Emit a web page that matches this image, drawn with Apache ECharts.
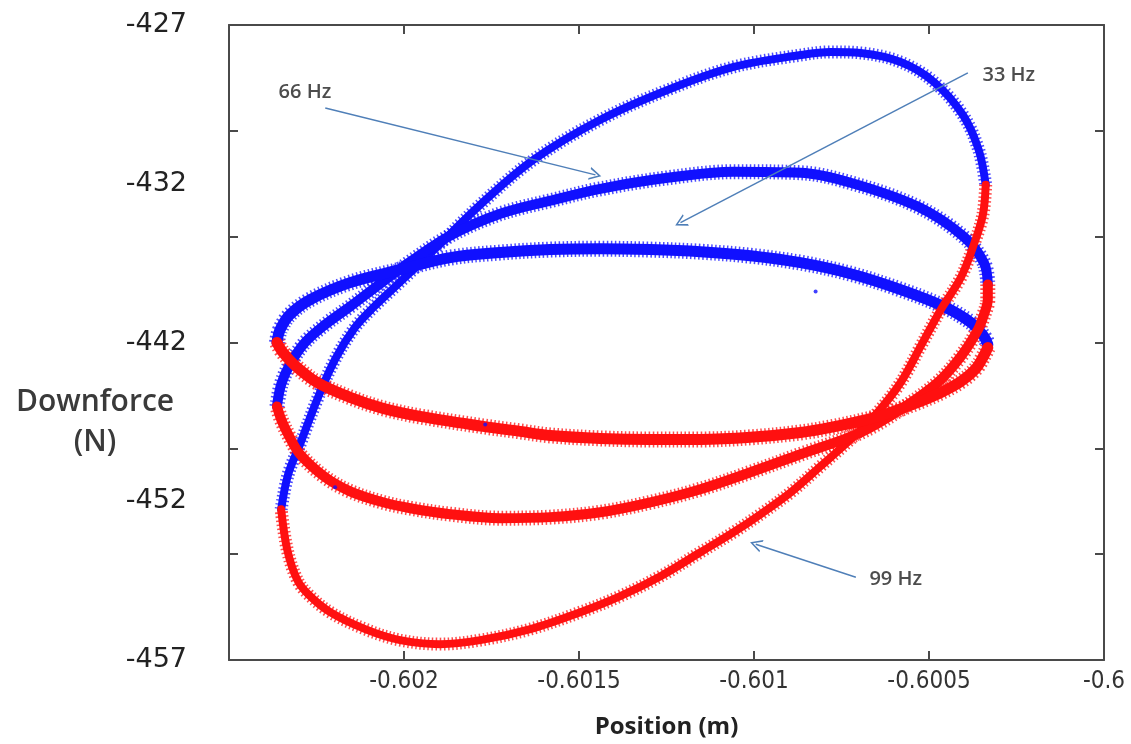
<!DOCTYPE html>
<html>
<head>
<meta charset="utf-8">
<script src="https://cdn.jsdelivr.net/npm/echarts@6/dist/echarts.min.js"></script>
<style>
html,body{margin:0;padding:0;background:#fff;}
#chart{width:1131px;height:744px;}
</style>
</head>
<body>
<div id="chart"></div>
<script>
// ---- Tick labels ----
const xTickLabels = ['-0.602', '-0.6015', '-0.601', '-0.6005', '-0.6'];
const yTickLabels = ['-457', '-452', '-442', '-432', '-427'];

// ---- 99 Hz loop (tallest) : upper (blue) and lower (red) branches ----
const hz99Upper = [
  [-0.602351, -449.88], [-0.602331, -448.23], [-0.602297, -446.81], [-0.602248, -444.69],
  [-0.602197, -442.80], [-0.602140, -441.29], [-0.602085, -440.30], [-0.602025, -439.36],
  [-0.601911, -437.57], [-0.601782, -435.49], [-0.601630, -433.37], [-0.601439, -431.48],
  [-0.601247, -430.07], [-0.601058, -428.98], [-0.600867, -428.42], [-0.600781, -428.27],
  [-0.600695, -428.32], [-0.600581, -428.75], [-0.600486, -429.69], [-0.600403, -431.25],
  [-0.600358, -432.90], [-0.600338, -434.55]
];
const hz99Lower = [
  [-0.600338, -434.55], [-0.600346, -435.96], [-0.600372, -437.38], [-0.600409, -438.93],
  [-0.600466, -440.44], [-0.600521, -442.09], [-0.600581, -443.89], [-0.600647, -445.30],
  [-0.600724, -446.58], [-0.600810, -447.85], [-0.600895, -449.08], [-0.600981, -450.11],
  [-0.601058, -450.96], [-0.601153, -451.91], [-0.601267, -453.04], [-0.601382, -453.98],
  [-0.601496, -454.74], [-0.601639, -455.54], [-0.601782, -456.06], [-0.601897, -456.25],
  [-0.602011, -456.06], [-0.602111, -455.54], [-0.602211, -454.74], [-0.602274, -453.89],
  [-0.602306, -453.18], [-0.602334, -451.76], [-0.602351, -449.88]
];

// ---- 66 Hz loop (middle) ----
const hz66Upper = [
  [-0.602363, -445.02], [-0.602351, -443.98], [-0.602326, -443.04], [-0.602283, -442.00],
  [-0.602225, -441.15], [-0.602154, -440.30], [-0.602068, -439.22], [-0.601982, -438.18],
  [-0.601868, -436.95], [-0.601725, -435.92], [-0.601582, -435.30], [-0.601439, -434.74],
  [-0.601247, -434.22], [-0.601058, -433.93], [-0.600867, -433.98], [-0.600724, -434.45],
  [-0.600532, -435.58], [-0.600401, -437.00], [-0.600343, -438.23], [-0.600332, -439.26]
];
const hz66Lower = [
  [-0.600332, -439.26], [-0.600332, -439.97], [-0.600343, -440.68], [-0.600360, -441.39],
  [-0.600409, -442.66], [-0.600475, -443.89], [-0.600581, -445.16], [-0.600695, -446.25],
  [-0.600867, -447.28], [-0.601010, -448.13], [-0.601153, -448.93], [-0.601296, -449.55],
  [-0.601439, -450.02], [-0.601582, -450.25], [-0.601725, -450.30], [-0.601868, -450.11],
  [-0.601982, -449.83], [-0.602060, -449.55], [-0.602154, -449.03], [-0.602225, -448.37],
  [-0.602297, -447.28], [-0.602331, -446.34], [-0.602351, -445.63], [-0.602363, -445.02]
];

// ---- 33 Hz loop (flattest) ----
const hz33Upper = [
  [-0.602363, -442.00], [-0.602354, -441.39], [-0.602326, -440.68], [-0.602268, -439.97],
  [-0.602154, -439.17], [-0.602011, -438.56], [-0.601868, -437.99], [-0.601725, -437.75],
  [-0.601582, -437.61], [-0.601439, -437.57], [-0.601296, -437.61], [-0.601153, -437.71],
  [-0.601010, -437.90], [-0.600867, -438.23], [-0.600724, -438.75], [-0.600581, -439.50],
  [-0.600458, -440.30], [-0.600380, -441.06], [-0.600343, -441.72], [-0.600332, -442.09]
];
const hz33Lower = [
  [-0.600332, -442.24], [-0.600343, -442.61], [-0.600366, -443.23], [-0.600409, -443.84],
  [-0.600466, -444.36], [-0.600532, -444.83], [-0.600609, -445.30], [-0.600675, -445.63],
  [-0.600781, -446.01], [-0.600867, -446.25], [-0.601010, -446.48], [-0.601153, -446.58],
  [-0.601296, -446.58], [-0.601439, -446.53], [-0.601582, -446.39], [-0.601668, -446.20],
  [-0.601774, -445.96], [-0.601954, -445.49], [-0.602060, -445.11], [-0.602154, -444.59],
  [-0.602248, -443.89], [-0.602311, -443.09], [-0.602346, -442.47], [-0.602363, -442.00]
];

// ---- stray blue samples ----
const strayPoints = [[-0.600824, -439.59], [-0.601768, -445.87], [-0.602197, -448.84]];

// ---- annotations: label text, label position, arrow start, arrow end ----
const annotationText = ['66 Hz', '33 Hz', '99 Hz'];
const annotationLabelPos = [[-0.602283, -430.16], [-0.600272, -429.36], [-0.600595, -453.18]];
const arrowStart = [[-0.602225, -430.92], [-0.600389, -429.26], [-0.600709, -453.09]];
const arrowEnd = [[-0.601453, -434.08], [-0.601210, -436.34], [-0.600995, -451.53]];

const BLUE = '#1010ff';
const RED = '#ff1010';
const FRAME = '#4a4a4a';

// each branch: a serrated halo (short dashes) under a solid core, imitating the '*' markers
function loopSeries(name, data, color, width) {
  return [
    {
      name: name, type: 'line', data: data, xAxisIndex: 0, yAxisIndex: 0,
      showSymbol: false, symbol: 'none', smooth: 0.35, silent: true,
      lineStyle: { color: color, width: width + 4, type: [1.5, 2.5], opacity: 0.75 },
      z: 2
    },
    {
      name: name, type: 'line', data: data, xAxisIndex: 0, yAxisIndex: 0,
      showSymbol: false, symbol: 'none', smooth: 0.35, silent: true,
      lineStyle: { color: color, width: width - 1, cap: 'round', join: 'round' },
      z: 3
    }
  ];
}

const chart = echarts.init(document.getElementById('chart'), null, { renderer: 'canvas' });

const valueAxisCommon = {
  axisLine: { show: true, onZero: false, lineStyle: { color: FRAME, width: 2 } },
  axisTick: { show: true, inside: true, length: 9, lineStyle: { color: FRAME, width: 2 } },
  splitLine: { show: false }
};

const option = {
  animation: false,
  backgroundColor: '#ffffff',
  grid: { left: 229, right: 27, top: 25, bottom: 83, containLabel: false },
  xAxis: [
    Object.assign({
      type: 'value', position: 'bottom', min: -0.6025, max: -0.6, interval: 0.0005,
      name: 'Position (m)', nameLocation: 'middle', nameGap: 55,
      nameTextStyle: { fontFamily: '"Open Sans", sans-serif', fontWeight: 'bold', fontSize: 24, color: '#222' },
      axisLabel: {
        margin: 10, fontSize: 24, color: '#333',
        fontFamily: '"DejaVu Sans Condensed", "Liberation Sans Narrow", "DejaVu Sans", sans-serif',
        formatter: function (v) {
          const s = xTickLabels.find(function (l) { return Math.abs(parseFloat(l) - v) < 1e-7; });
          return s || '';
        }
      }
    }, valueAxisCommon),
    Object.assign({
      type: 'value', position: 'top', min: -0.6025, max: -0.6, interval: 0.0005,
      axisLabel: { show: false }
    }, valueAxisCommon)
  ],
  yAxis: [
    Object.assign({
      type: 'value', position: 'left', min: -457, max: -427, interval: 5,
      axisLabel: { show: false }
    }, valueAxisCommon),
    {
      type: 'category', position: 'left', boundaryGap: false, data: yTickLabels,
      axisLine: { show: false }, axisTick: { show: false }, splitLine: { show: false },
      axisLabel: {
        margin: 42, fontSize: 27, color: '#222',
        fontFamily: '"DejaVu Sans", sans-serif'
      }
    },
    Object.assign({
      type: 'value', position: 'right', min: -457, max: -427, interval: 5,
      axisLabel: { show: false }
    }, valueAxisCommon)
  ],
  graphic: [
    {
      type: 'text', x: 95, y: 382, silent: true,
      style: {
        text: 'Downforce\n(N)', textAlign: 'center', textVerticalAlign: 'top',
        fontFamily: '"Open Sans", sans-serif', fontWeight: 600, fontSize: 30,
        lineHeight: 40, fill: '#3a3a3a'
      }
    }
  ],
  series: [].concat(
    loopSeries('99 Hz upper', hz99Upper, BLUE, 9),
    loopSeries('66 Hz upper', hz66Upper, BLUE, 11),
    loopSeries('33 Hz upper', hz33Upper, BLUE, 12),
    loopSeries('99 Hz lower', hz99Lower, RED, 9),
    loopSeries('66 Hz lower', hz66Lower, RED, 11),
    loopSeries('33 Hz lower', hz33Lower, RED, 12),
    [
      {
        name: 'stray', type: 'scatter', data: strayPoints, symbolSize: 4, silent: true,
        itemStyle: { color: BLUE }, z: 4
      },
      {
        name: 'annotations', type: 'scatter', data: [], silent: true, z: 5,
        markLine: {
          silent: true, animation: false,
          symbol: ['none', 'path://M50,0 L100,100 L86,100 L50,26 L14,100 L0,100 Z'],
          symbolSize: [13, 12],
          label: { show: false },
          lineStyle: { color: '#4f7fb8', width: 1.5, type: 'solid' },
          emphasis: { disabled: true },
          data: arrowStart.map(function (s, i) {
            return [{ coord: s }, { coord: arrowEnd[i] }];
          })
        },
        markPoint: {
          silent: true, animation: false, symbol: 'circle', symbolSize: 0,
          label: {
            show: true, position: 'inside', color: '#4d4d4d', fontSize: 20, fontWeight: 600,
            fontFamily: '"Open Sans", sans-serif',
            formatter: function (p) { return p.name; }
          },
          data: annotationText.map(function (t, i) {
            return { name: t, coord: annotationLabelPos[i] };
          })
        }
      }
    ]
  )
};

chart.setOption(option);
</script>
</body>
</html>
